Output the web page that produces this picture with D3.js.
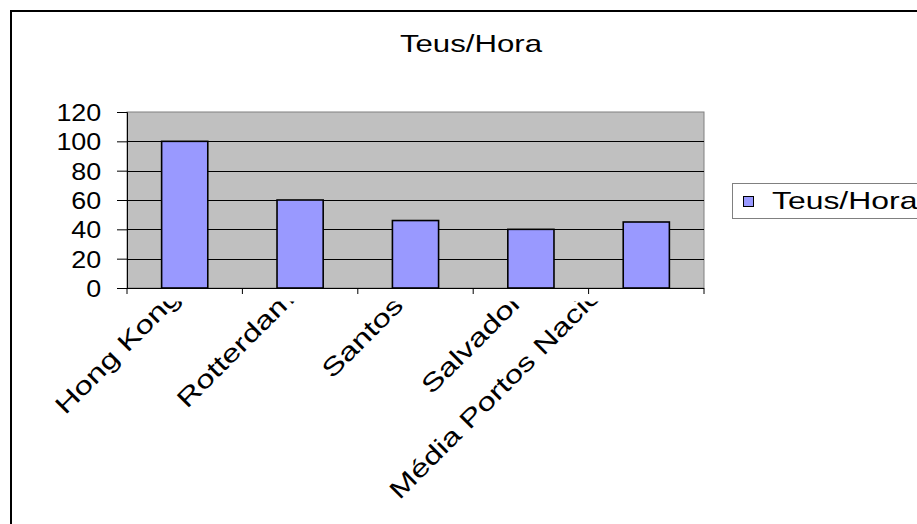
<!DOCTYPE html>
<html>
<head>
<meta charset="utf-8">
<script src="https://cdn.jsdelivr.net/npm/d3@7"></script>
<style>
  html, body { margin: 0; padding: 0; background: #fff; }
  svg { display: block; font-family: "Liberation Sans", Arial, sans-serif; }
</style>
</head>
<body>
<svg id="chart" width="917" height="524"></svg>
<script>
// Container throughput by port
const chartTitle = "Teus/Hora";
const seriesName = "Teus/Hora";
const ports = ["Hong Kong", "Rotterdam", "Santos", "Salvador", "Média Portos Nacionais"];
const teusPerHour = [100, 60, 46, 40, 45];
const yTicks = [0, 20, 40, 60, 80, 100, 120];

const svg = d3.select("#chart");
const W = 917, H = 524;
const plot = { left: 127, top: 112, right: 704, bottom: 288 };
const wide = 1.3; // horizontal stretch of the chart text

// outer chart frame
svg.append("rect")
  .attr("x", 11).attr("y", 11)
  .attr("width", W + 20).attr("height", H + 20)
  .attr("fill", "#fff").attr("stroke", "#000").attr("stroke-width", 2);

const x = d3.scaleBand().domain(ports).range([plot.left, plot.right]).paddingInner(0.6).paddingOuter(0.3);
const xOuter = d3.scaleBand().domain(ports).range([plot.left, plot.right]);
const y = d3.scaleLinear().domain([0, 120]).range([plot.bottom, plot.top]);

// plot background
svg.append("rect")
  .attr("x", plot.left).attr("y", plot.top)
  .attr("width", plot.right - plot.left).attr("height", plot.bottom - plot.top)
  .attr("fill", "#c0c0c0").attr("stroke", "#808080").attr("stroke-width", 1);

// horizontal gridlines
svg.append("g").selectAll("line")
  .data(yTicks.filter(v => v > 0 && v < 120))
  .join("line")
  .attr("x1", plot.left).attr("x2", plot.right)
  .attr("y1", d => Math.round(y(d)) + 0.5).attr("y2", d => Math.round(y(d)) + 0.5)
  .attr("stroke", "#000").attr("stroke-width", 1);

// bars
svg.append("g").selectAll("rect")
  .data(ports.map((p, i) => ({ p, v: teusPerHour[i] })))
  .join("rect")
  .attr("x", d => x(d.p))
  .attr("y", d => y(d.v))
  .attr("width", x.bandwidth())
  .attr("height", d => y(0) - y(d.v))
  .attr("fill", "#9999ff").attr("stroke", "#000").attr("stroke-width", 1.6);

// y axis
const yAxis = d3.axisLeft(y).tickValues(yTicks).tickSize(10).tickPadding(13).tickFormat(d3.format("d"));
const gy = svg.append("g").attr("transform", `translate(${plot.left},0)`).call(yAxis);
gy.select(".domain").attr("stroke", "#000");
gy.selectAll(".tick line").attr("stroke", "#000");
gy.selectAll(".tick text").attr("font-size", 24).attr("fill", "#000")
  .attr("font-family", "Liberation Sans, Arial, sans-serif")
  .attr("transform", "scale(1.12,1)").attr("dy", "0.36em");

// x axis line and boundary ticks
svg.append("line")
  .attr("x1", plot.left).attr("x2", plot.right)
  .attr("y1", plot.bottom + 0.5).attr("y2", plot.bottom + 0.5)
  .attr("stroke", "#000").attr("stroke-width", 1.2);
const bounds = ports.map(p => xOuter(p)).concat([plot.right]);
svg.append("g").selectAll("line")
  .data(bounds).join("line")
  .attr("x1", d => d).attr("x2", d => d)
  .attr("y1", plot.bottom).attr("y2", plot.bottom + 6)
  .attr("stroke", "#000");

// rotated category labels: laid out with narrow metrics, drawn wider,
// and clipped just under the axis
const labelFont = 25, layoutFont = 27, labelStretch = 1.32;
const lineStep = 30, maxLabelLen = 200;
const c45 = Math.SQRT1_2;
svg.append("clipPath").attr("id", "lblclip")
  .append("rect").attr("x", 0).attr("y", 301.5).attr("width", W).attr("height", H);
const measure = svg.append("text").attr("font-size", layoutFont).attr("visibility", "hidden");
const labelG = svg.append("g").attr("clip-path", "url(#lblclip)");
ports.forEach(p => {
  const len = measure.text(p).node().getComputedTextLength();
  const cx = xOuter(p) + xOuter.bandwidth() / 2;
  // layout end point of the label's baseline
  let ex = cx - 24, ey = plot.bottom + 32;
  // labels too long for one line get a two-line box; the text sits on its outer line
  if (len > maxLabelLen) { ex -= lineStep * c45; ey -= lineStep * c45; }
  const sx = ex - len * c45, sy = ey + len * c45;
  labelG.append("text")
    .attr("transform", `translate(${sx},${sy}) rotate(-45) scale(${labelStretch},1)`)
    .attr("font-size", labelFont).attr("fill", "#000")
    .text(p);
});
measure.remove();

// title
svg.append("text")
  .attr("transform", `translate(471,52) scale(${wide},1)`)
  .attr("text-anchor", "middle").attr("font-size", 24).attr("fill", "#000")
  .text(chartTitle);

// legend
const lg = svg.append("g").attr("transform", "translate(732,183)");
lg.append("rect").attr("x", 0.5).attr("y", 0.5).attr("width", 220).attr("height", 35)
  .attr("fill", "#fff").attr("stroke", "#808080").attr("stroke-width", 1);
lg.append("rect").attr("x", 11.5).attr("y", 13.5).attr("width", 10).attr("height", 10)
  .attr("fill", "#9999ff").attr("stroke", "#000").attr("stroke-width", 1);
lg.append("text").attr("transform", `translate(40,26) scale(${wide + 0.03},1)`)
  .attr("font-size", 24).attr("fill", "#000").text(seriesName);
</script>
</body>
</html>
